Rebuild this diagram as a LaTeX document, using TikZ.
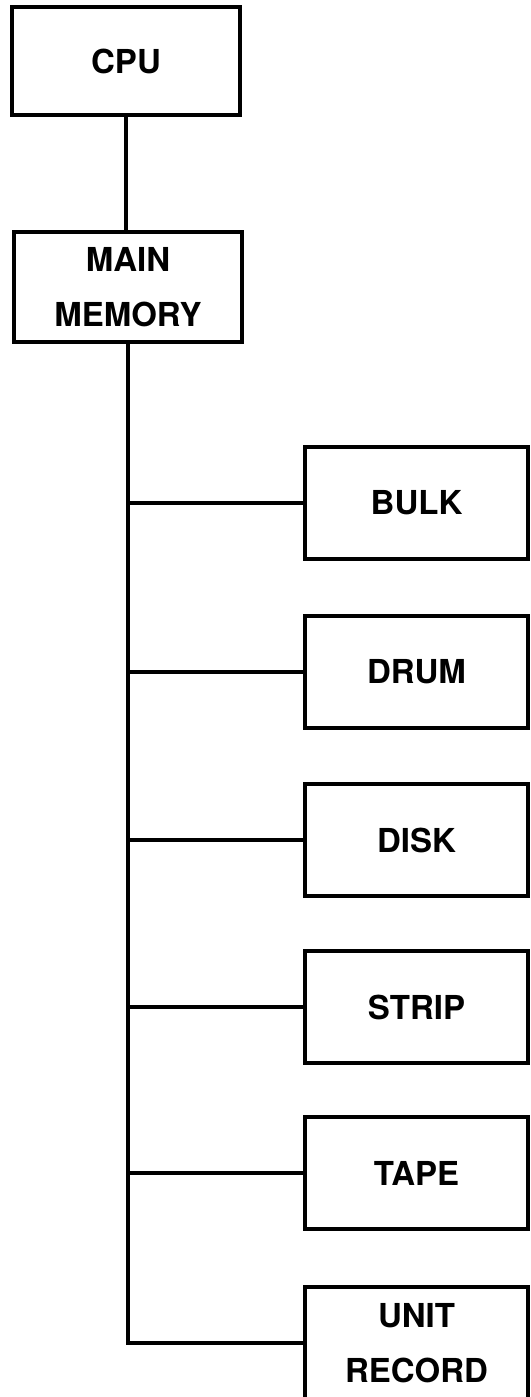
\documentclass[tikz,border=0pt]{standalone}
\usepackage{fontspec}
\setmainfont{TeX Gyre Heros}
\usepackage{tikz}
\usetikzlibrary{positioning,calc}
\tikzset{
  unitbox/.style={draw,line width=2.1pt,inner sep=0pt,align=center,
    minimum width=114pt,minimum height=54pt},
  storebox/.style={draw,line width=2.1pt,inner sep=0pt,align=center,
    minimum width=111.5pt,minimum height=56pt},
  bus/.style={line width=2.1pt,line cap=rect},
  unitfont/.style={font=\fontsize{16.5}{27.5}\selectfont\bfseries}
}
\begin{document}
\begin{tikzpicture}[x=0.5pt,y=-0.5pt,unitfont]
  \useasboundingbox (0,0) rectangle (530,1397);
  % processor and main memory
  \node[unitbox] (cpu) at (126,61) {CPU};
  \node[unitbox,minimum height=55pt] (mem) at (128,287) {MAIN\\MEMORY};
  \draw[bus] (cpu) -- (cpu.south |- mem.north);
  % backing stores
  \node[storebox] (bulk) at (416.5,503) {BULK};
  \node[storebox] (drum) at (416.5,672) {DRUM};
  \node[storebox] (disk) at (416.5,840) {DISK};
  \node[storebox] (strip) at (416.5,1007) {STRIP};
  \node[storebox] (tape) at (416.5,1173) {TAPE};
  \node[storebox] (unit) at (416.5,1343) {UNIT\\RECORD};
  % trunk with its branches
  \draw[bus] (mem.south) |- (unit.west);
  \foreach \s in {bulk,drum,disk,strip,tape}
    \draw[bus] (mem.south |- \s.west) -- (\s.west);
\end{tikzpicture}
\end{document}
